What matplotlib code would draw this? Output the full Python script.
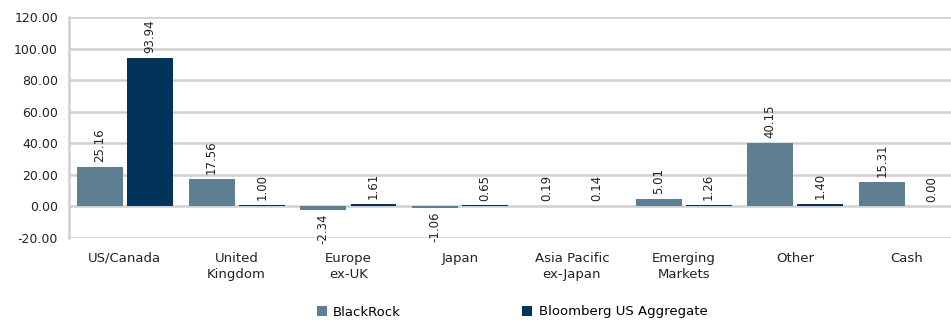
import numpy as np
import matplotlib
matplotlib.use('Agg')
from matplotlib import pyplot as plt

# данные
categories = ['US/Canada', 'United\nKingdom', 'Europe\nex-UK', 'Japan',
              'Asia Pacific\nex-Japan', 'Emerging\nMarkets', 'Other', 'Cash']
blackrock = [25.16, 17.56, -2.34, -1.06, 0.19, 5.01, 40.15, 15.31]
bloomberg = [93.94, 1.00, 1.61, 0.65, 0.14, 1.26, 1.40, 0.00]
series_names = ['BlackRock', 'Bloomberg US Aggregate']

plt.rcParams['font.family'] = ['DejaVu Sans']

fig = plt.figure(figsize=(9.51, 3.2), dpi=100)
# ось чуть выходит за правый край, как в оригинале
ax = fig.add_axes([0.0726, 0.256, 0.94, 0.691])

x = np.arange(len(categories))
w = 0.41
off = 0.224
col_br = '#5E7E91'
col_bb = '#02335A'

b1 = ax.bar(x - off, blackrock, w, color=col_br, label=series_names[0], zorder=3)
b2 = ax.bar(x + off, bloomberg, w, color=col_bb, label=series_names[1], zorder=3)

for bars, vals in [(b1, blackrock), (b2, bloomberg)]:
    for r, v in zip(bars, vals):
        cx = r.get_x() + r.get_width() / 2
        if v < 0:
            ax.annotate('%.2f' % v, (cx, v), xytext=(0, -2.5), textcoords='offset points',
                        rotation=90, ha='center', va='top', fontsize=8.5, color='#222222')
        else:
            ax.annotate('%.2f' % v, (cx, v), xytext=(0, 3.5), textcoords='offset points',
                        rotation=90, ha='center', va='bottom', fontsize=8.5, color='#222222')

ax.set_ylim(-20, 120)
ax.set_yticks(np.arange(-20, 121, 20))
ax.set_yticklabels(['%.2f' % t for t in np.arange(-20, 121, 20)], fontsize=9, color='#222222')
ax.set_xlim(-0.5, len(categories) - 0.5)
ax.set_xticks(x)
ax.set_xticklabels(categories, fontsize=9.5, color='#222222', linespacing=1.35)
ax.tick_params(length=0)
ax.tick_params(axis='x', pad=10)
ax.tick_params(axis='y', pad=8)

ax.grid(axis='y', color='#D0D0D0', linewidth=1.8, zorder=0)
for s in ['top', 'right', 'bottom']:
    ax.spines[s].set_visible(False)
ax.spines['left'].set_color('#D0D0D0')
ax.spines['left'].set_linewidth(1.8)

fig.legend(loc='center', bbox_to_anchor=(0.5385, 0.025), ncol=2, frameon=False,
           fontsize=9.5, handlelength=0.75, handleheight=0.75, handletextpad=0.5,
           columnspacing=9.2, borderaxespad=0)

plt.savefig('out.png', dpi=100)
